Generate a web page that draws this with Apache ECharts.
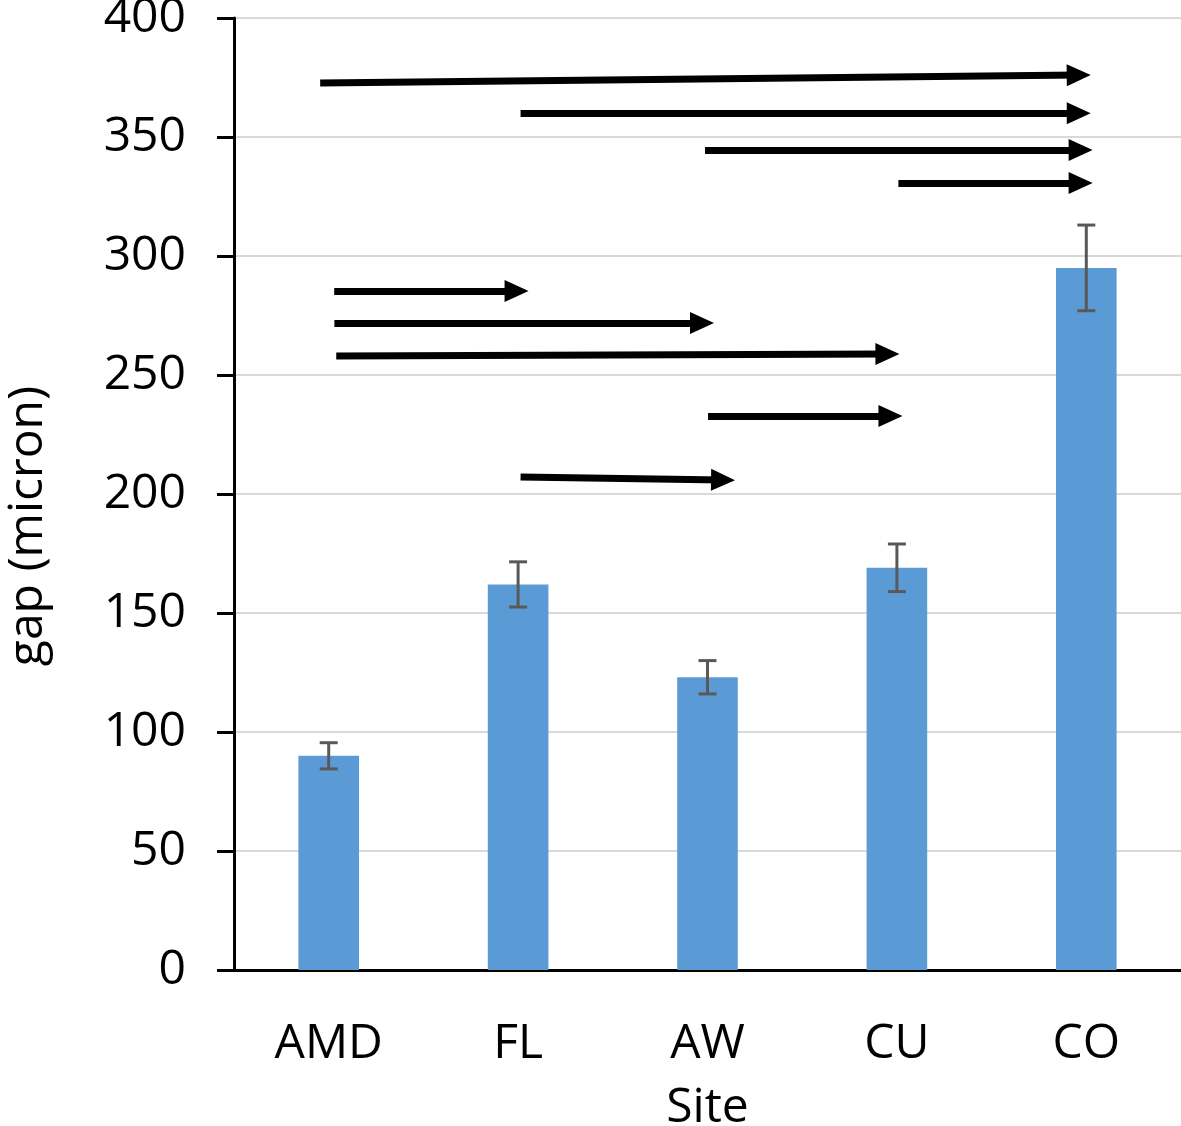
<!DOCTYPE html>
<html>
<head>
<meta charset="utf-8">
<script src="https://cdn.jsdelivr.net/npm/echarts@6/dist/echarts.min.js"></script>
<style>
html,body{margin:0;padding:0;background:#fff;}
#chart{width:1181px;height:1126px;}
</style>
</head>
<body>
<div id="chart"></div>
<script>
// ---- data ----
const categories = ['AMD', 'FL', 'AW', 'CU', 'CO'];
const gapMean = [90, 162, 123, 169, 295];
const gapErr = [5.5, 9.5, 7, 10, 18];
const yTicks = { min: 0, max: 400, step: 50 };
// arrows (x in category index units, y in micron): [x1, y1, x2, y2]
const arrowStartX = [-0.045, 1.013, 1.987, 3.008, 0.029, 0.03, 0.04, 2.003, 1.013];
const arrowStartY = [372.7, 360, 344.5, 330.7, 285.3, 271.8, 258.0, 232.8, 207.1];
const arrowEndX   = [3.96, 3.96, 3.97, 3.97, 0.992, 1.971, 2.95, 2.966, 2.082];
const arrowEndY   = [376, 360, 344.5, 330.7, 285.3, 271.8, 258.8, 232.8, 205.9];

const FONT = '"Open Sans", "Noto Sans", sans-serif';

const errData = categories.map((c, i) => [i, gapMean[i] - gapErr[i], gapMean[i] + gapErr[i]]);
const arrowLines = arrowStartX.map((x, i) => [
  { coord: [x, arrowStartY[i]] },
  { coord: [arrowEndX[i], arrowEndY[i]] }
]);

const chart = echarts.init(document.getElementById('chart'), null, { renderer: 'canvas' });
chart.setOption({
  animation: false,
  backgroundColor: '#ffffff',
  grid: { left: 234, right: 0, top: 18, bottom: 156, containLabel: false, outerBoundsMode: 'none' },
  xAxis: [
    {
      type: 'category',
      data: categories,
      name: 'Site',
      nameLocation: 'middle',
      nameGap: 114,
      nameTextStyle: { fontFamily: FONT, fontSize: 48, color: '#000' },
      axisLine: { lineStyle: { color: '#000', width: 3 } },
      axisTick: { show: false },
      axisLabel: { fontFamily: FONT, fontSize: 48, color: '#000', margin: 50 },
      splitLine: { show: false }
    },
    {
      type: 'value',
      min: -0.5,
      max: 4.5,
      show: false
    }
  ],
  yAxis: {
    type: 'value',
    min: yTicks.min,
    max: yTicks.max,
    interval: yTicks.step,
    axisLine: { show: true, onZero: false, lineStyle: { color: '#000', width: 3 } },
    axisTick: { show: true, length: 17, lineStyle: { color: '#000', width: 3 } },
    axisLabel: { fontFamily: FONT, fontSize: 48, color: '#000', margin: 48 },
    splitLine: { show: true, lineStyle: { color: '#d9d9d9', width: 2 } }
  },
  graphic: [
    {
      type: 'text',
      x: 28,
      y: 526,
      rotation: Math.PI / 2,
      style: {
        text: 'gap (micron)',
        fontFamily: FONT,
        fontSize: 48,
        fill: '#000',
        align: 'center',
        verticalAlign: 'middle'
      }
    }
  ],
  series: [
    {
      type: 'bar',
      data: gapMean,
      barWidth: '32%',
      itemStyle: { color: '#5b9bd5' },
      z: 2
    },
    {
      type: 'custom',
      data: errData,
      encode: { x: 0, y: [1, 2] },
      z: 3,
      renderItem: function (params, api) {
        const x = api.value(0);
        const lo = api.coord([x, api.value(1)]);
        const hi = api.coord([x, api.value(2)]);
        const hw = 9;
        const st = { stroke: '#595959', lineWidth: 3 };
        return {
          type: 'group',
          children: [
            { type: 'line', shape: { x1: lo[0], y1: lo[1], x2: hi[0], y2: hi[1] }, style: st },
            { type: 'line', shape: { x1: lo[0] - hw, y1: lo[1], x2: lo[0] + hw, y2: lo[1] }, style: st },
            { type: 'line', shape: { x1: hi[0] - hw, y1: hi[1], x2: hi[0] + hw, y2: hi[1] }, style: st }
          ]
        };
      }
    },
    {
      type: 'line',
      xAxisIndex: 1,
      data: [],
      z: 5,
      markLine: {
        silent: true,
        symbol: ['none', 'triangle'],
        symbolSize: [22, 24],
        label: { show: false },
        lineStyle: { color: '#000', width: 7, type: 'solid' },
        itemStyle: { color: '#000' },
        data: arrowLines
      }
    }
  ]
});
</script>
</body>
</html>
